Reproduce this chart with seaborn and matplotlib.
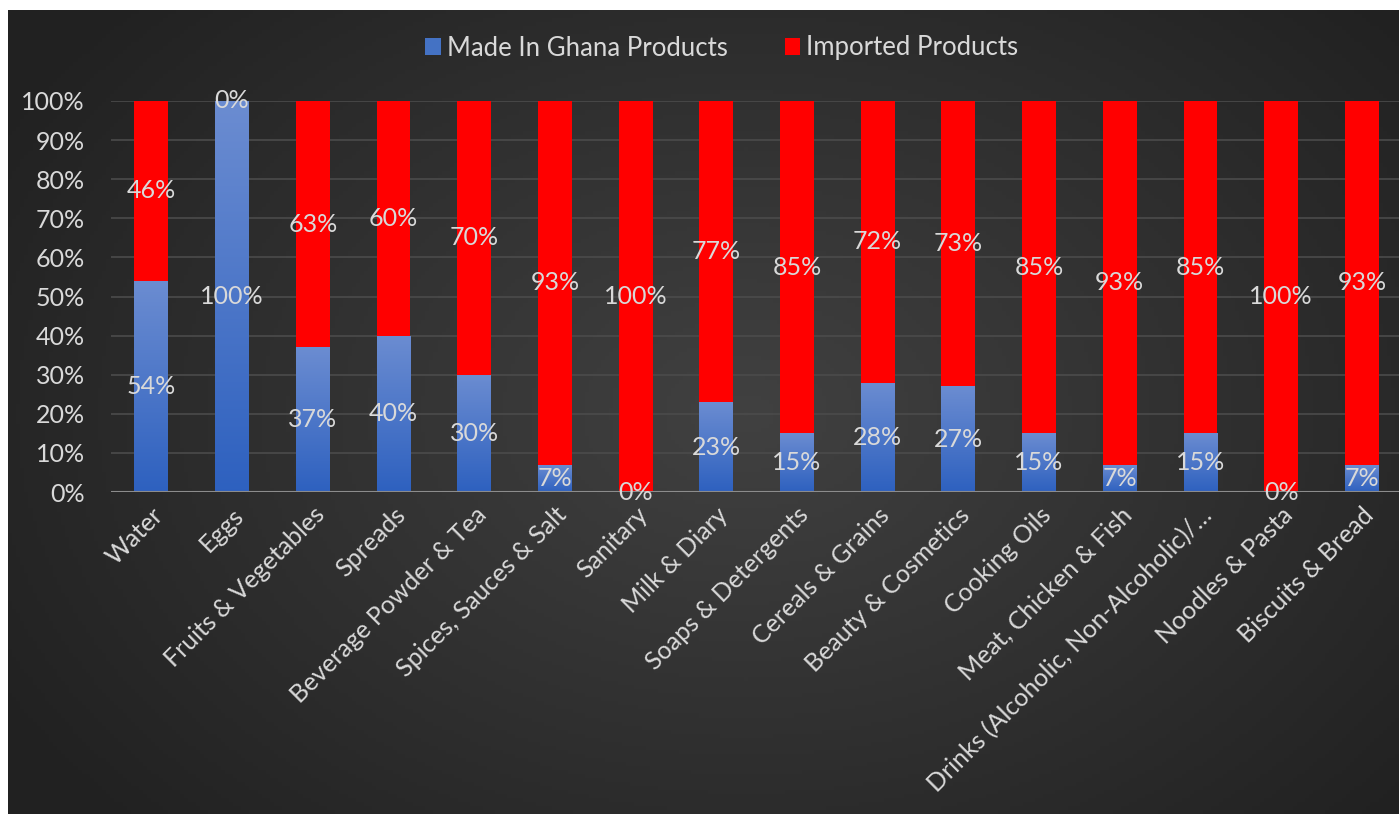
import numpy as np
import pandas as pd
import seaborn as sns
import matplotlib.pyplot as plt
from matplotlib.patches import Patch

# Data
categories = ['Water', 'Eggs', 'Fruits & Vegetables', 'Spreads', 'Beverage Powder & Tea',
              'Spices, Sauces & Salt', 'Sanitary', 'Milk & Diary', 'Soaps & Detergents',
              'Cereals & Grains', 'Beauty & Cosmetics', 'Cooking Oils', 'Meat, Chicken & Fish',
              'Drinks (Alcoholic, Non-Alcoholic)/…', 'Noodles & Pasta', 'Biscuits & Bread']
made_in_ghana = [54, 100, 37, 40, 30, 7, 0, 23, 15, 28, 27, 15, 7, 15, 0, 7]
imported = [46, 0, 63, 60, 70, 93, 100, 77, 85, 72, 73, 85, 93, 85, 100, 93]

df = pd.DataFrame({'category': categories, 'made': made_in_ghana, 'imported': imported})
df['total'] = df['made'] + df['imported']

sns.set_theme(style='dark')
plt.rcParams['font.family'] = ['Lato', 'DejaVu Sans']
txt = '#d9d9d9'
fs = 18

W, H = 1399, 814
fig = plt.figure(figsize=(W / 100, H / 100), dpi=100)
fig.patch.set_facecolor('white')

# radial gradient background panel
bg = fig.add_axes([8 / W, 0, (W - 8) / W, (H - 10) / H], zorder=-2)
yy, xx = np.mgrid[0:200, 0:340]
d = np.sqrt(((xx - 180) / 210.0) ** 2 + ((yy - 100) / 150.0) ** 2)
d = np.clip(d, 0, 1)
shade = 0.255 - 0.125 * d
bg.imshow(np.dstack([shade, shade, shade]), aspect='auto', extent=[0, 1, 0, 1])
bg.axis('off')

ax = fig.add_axes([111 / W, 1 - 492 / H, (W - 111) / W, (492 - 101) / H])
ax.set_facecolor('none')

sns.barplot(data=df, x='category', y='total', color='#ff0000', width=0.42,
            saturation=1, linewidth=0, ax=ax, zorder=2)
sns.barplot(data=df, x='category', y='made', color='#4472c4', width=0.42,
            saturation=1, linewidth=0, ax=ax, zorder=3)

# vertical gradient on blue bars (per bar)
grad = np.linspace(0, 1, 100).reshape(-1, 1)
top_c = np.array([0.42, 0.55, 0.82])
bot_c = np.array([0.18, 0.38, 0.75])
img = top_c * (1 - grad[..., None]) + bot_c * grad[..., None]
n = len(categories)
for p in ax.patches[n:]:
    h = p.get_height()
    if h <= 0:
        continue
    x0 = p.get_x()
    im = ax.imshow(img, aspect='auto', extent=[x0, x0 + p.get_width(), 0, h],
                   zorder=3.5, interpolation='bilinear')
    im.set_clip_path(p)

ax.set_xlim(-0.5, 15.46)
ax.set_ylim(0, 100)
ax.set_yticks(range(0, 101, 10))
ax.set_yticklabels([f'{v}%' for v in range(0, 101, 10)], color=txt, fontsize=fs)
ax.set_xticks(range(n))
ax.set_xticklabels(categories, rotation=45, ha='right', rotation_mode='anchor',
                   color=txt, fontsize=fs)
ax.tick_params(axis='both', length=0)
ax.tick_params(axis='x', pad=8)
ax.tick_params(axis='y', pad=19)
ax.set_xlabel('')
ax.set_ylabel('')
ax.grid(axis='y', color='#4b4b4b', linewidth=1.2, zorder=0)
ax.set_axisbelow(True)
for s in ax.spines.values():
    s.set_visible(False)
ax.axhline(0, color='#8c8c8c', linewidth=1.5, zorder=4)

# data labels
for i, (m, im_) in enumerate(zip(made_in_ghana, imported)):
    ax.text(i, m / 2, f'{m}%', ha='center', va='center', color=txt, fontsize=fs,
            zorder=5, clip_on=False)
    ax.text(i, m + im_ / 2, f'{im_}%', ha='center', va='center', color=txt, fontsize=fs,
            zorder=5, clip_on=False)

handles = [Patch(facecolor='#4472c4', edgecolor='none', label='Made In Ghana Products'),
           Patch(facecolor='#ff0000', edgecolor='none', label='Imported Products')]
leg = fig.legend(handles=handles, loc='center', bbox_to_anchor=(722 / W, 1 - 48 / H),
                 ncol=2, frameon=False, fontsize=18.5, handlelength=0.6, handleheight=0.6,
                 handletextpad=0.25, columnspacing=2.2)
for t in leg.get_texts():
    t.set_color(txt)

fig.savefig('out.png', dpi=100)
